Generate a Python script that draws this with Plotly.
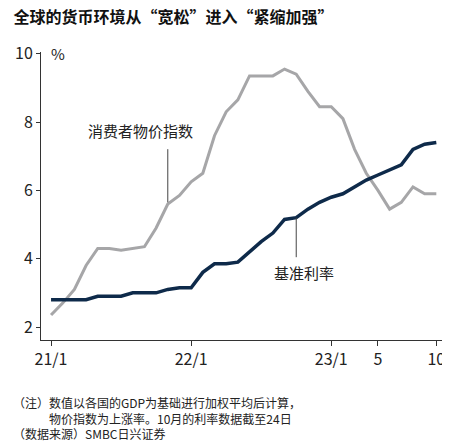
import plotly.graph_objects as go

months = list(range(34))
cpi = [2.35,2.7,3.1,3.8,4.3,4.3,4.25,4.3,4.35,4.9,5.6,5.85,6.25,6.5,7.6,8.3,8.65,9.35,9.35,9.35,9.55,9.4,8.9,8.45,8.45,8.1,7.2,6.5,6.0,5.45,5.65,6.1,5.9,5.9]
rate = [2.8,2.8,2.8,2.8,2.9,2.9,2.9,3.0,3.0,3.0,3.1,3.15,3.15,3.6,3.85,3.85,3.9,4.2,4.5,4.75,5.15,5.2,5.45,5.65,5.8,5.9,6.1,6.3,6.45,6.6,6.75,7.2,7.35,7.4]
xtick_vals = [0, 12, 24, 28, 33]
xtick_text = ["21/1", "22/1", "23/1", "5", "10"]
ytick_vals = [2, 4, 6, 8, 10]

F = "Noto Sans CJK SC"
fig = go.Figure()
fig.add_trace(go.Scatter(x=months, y=cpi, mode="lines", line=dict(color="#a6a6a8", width=3)))
fig.add_trace(go.Scatter(x=months, y=rate, mode="lines", line=dict(color="#0e2a4a", width=3.5)))

fig.update_layout(
    width=450, height=445, showlegend=False,
    paper_bgcolor="white", plot_bgcolor="white",
    margin=dict(l=33, r=10, t=44, b=113, autoexpand=False),
    font=dict(family=F, color="#222", size=13),
    title=dict(text="<b>全球的货币环境从“宽松”进入“紧缩加强”</b>", x=0.012, xanchor="left",
               y=0.992, yanchor="top", font=dict(size=16, color="#111", family=F)),
    xaxis=dict(range=[-0.86, 34.0], tickvals=xtick_vals, ticktext=xtick_text,
               showline=True, linecolor="#333", linewidth=1, ticks="outside",
               ticklen=5, tickcolor="#333", showgrid=False, zeroline=False,
               automargin=False, tickfont=dict(size=16, family=F)),
    yaxis=dict(range=[1.62, 10.05], tickvals=ytick_vals, showline=True,
               linecolor="#333", linewidth=1, ticks="outside", ticklen=4,
               tickcolor="#333", showgrid=False, zeroline=False,
               automargin=False, tickfont=dict(size=16, family=F)),
)
fig.add_annotation(x=0, y=10, xref="paper", yref="y", text="%", showarrow=False,
                   xanchor="left", xshift=8, font=dict(size=15))
fig.add_annotation(x=10.0, y=5.65, ax=10.0, ay=7.25, axref="x", ayref="y",
                   showarrow=True, arrowhead=0, arrowwidth=1, arrowcolor="#444", text="")
fig.add_annotation(x=7.7, y=7.75, text="消费者物价指数", showarrow=False,
                   font=dict(size=15))
fig.add_annotation(x=21.0, y=5.2, ax=21.0, ay=4.0, axref="x", ayref="y",
                   showarrow=True, arrowhead=0, arrowwidth=1, arrowcolor="#444", text="")
fig.add_annotation(x=21.7, y=3.6, text="基准利率", showarrow=False, font=dict(size=15))
fig.add_annotation(x=0, y=0, xref="paper", yref="paper", yshift=-104, xshift=-30,
                   xanchor="left", yanchor="bottom", align="left", showarrow=False,
                   text="（注）数值以各国的GDP为基础进行加权平均后计算，<br>　　　物价指数为上涨率。10月的利率数据截至24日<br>（数据来源）SMBC日兴证券",
                   font=dict(size=12, color="#222"))
fig.write_html("out.html")
